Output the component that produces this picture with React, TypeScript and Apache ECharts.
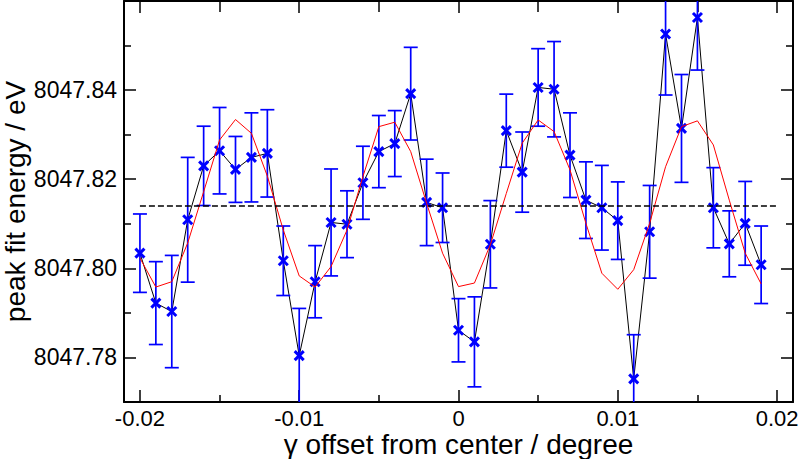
import React, { useEffect, useRef } from "react";
import * as echarts from "echarts";

const offsets = [
  -0.02, -0.019, -0.018, -0.017, -0.016, -0.015, -0.014, -0.013, -0.012, -0.011,
  -0.01, -0.009, -0.008, -0.007, -0.006, -0.005, -0.004, -0.003, -0.002, -0.001,
  0, 0.001, 0.002, 0.003, 0.004, 0.005, 0.006, 0.007, 0.008, 0.009,
  0.01, 0.011, 0.012, 0.013, 0.014, 0.015, 0.016, 0.017, 0.018, 0.019,
];

const peakEnergy = [
  8047.8034, 8047.7922, 8047.7903, 8047.8109, 8047.823, 8047.8264, 8047.8222, 8047.8249, 8047.8258, 8047.8017,
  8047.7804, 8047.797, 8047.8103, 8047.8099, 8047.8192, 8047.8262, 8047.828, 8047.8392, 8047.8148, 8047.8136,
  8047.7861, 8047.7835, 8047.8054, 8047.8309, 8047.8216, 8047.8406, 8047.8402, 8047.8254, 8047.8153, 8047.8136,
  8047.8107, 8047.7752, 8047.8082, 8047.8526, 8047.8314, 8047.8563, 8047.8136, 8047.8055, 8047.8101, 8047.8008,
];

const peakError = [
  0.0088, 0.0093, 0.0126, 0.014, 0.0089, 0.0097, 0.0074, 0.01, 0.0098, 0.0078,
  0.0106, 0.0081, 0.012, 0.0075, 0.0082, 0.0081, 0.0074, 0.0104, 0.0097, 0.0078,
  0.0071, 0.0101, 0.0098, 0.0082, 0.009, 0.0087, 0.0107, 0.0095, 0.0086, 0.0095,
  0.0087, 0.0099, 0.0104, 0.0137, 0.0121, 0.0118, 0.009, 0.0074, 0.0094, 0.0087,
];

const fitEnergy = [
  8047.8023, 8047.7958, 8047.797, 8047.8057, 8047.8172, 8047.8288, 8047.8334, 8047.8303, 8047.8207, 8047.8086,
  8047.7983, 8047.7958, 8047.8004, 8047.8086, 8047.8206, 8047.8318, 8047.8328, 8047.8262, 8047.8146, 8047.8034,
  8047.7959, 8047.7967, 8047.8053, 8047.8168, 8047.8281, 8047.8333, 8047.8307, 8047.8221, 8047.8101, 8047.7989,
  8047.7953, 8047.7997, 8047.8101, 8047.8228, 8047.8318, 8047.8331, 8047.8277, 8047.8153, 8047.8034, 8047.7965,
];

const meanEnergy = 8047.814;
const meanRange = [-0.02, 0.02];

const xRange = [-0.021, 0.021];
const yRange = [8047.77, 8047.86];

const xTitle = "γ offset from center / degree";
const yTitle = "peak fit energy / eV";

const BLUE = "#0000ff";
const FONT = "'Liberation Sans', Arial, Helvetica, sans-serif";

export default function App() {
  const ref = useRef<HTMLDivElement>(null);

  useEffect(() => {
    if (!ref.current) return;
    const chart = echarts.init(ref.current, null, { renderer: "svg" });

    const baseX = {
      type: "value" as const,
      min: xRange[0],
      max: xRange[1],
      splitNumber: 4,
      splitLine: { show: false },
      axisLine: { show: true, onZero: false, lineStyle: { color: "#000", width: 2 } },
      axisTick: { show: true, inside: true, length: 12, lineStyle: { color: "#000", width: 1.5 } },
      minorTick: { show: true, splitNumber: 2, length: 7, lineStyle: { color: "#000", width: 1.5 } },
      minorSplitLine: { show: false },
    };
    const baseY = {
      type: "value" as const,
      min: yRange[0],
      max: yRange[1],
      splitNumber: 4,
      scale: true,
      splitLine: { show: false },
      axisLine: { show: true, onZero: false, lineStyle: { color: "#000", width: 2 } },
      axisTick: { show: true, inside: true, length: 12, lineStyle: { color: "#000", width: 1.5 } },
      minorTick: { show: true, splitNumber: 2, length: 7, lineStyle: { color: "#000", width: 1.5 } },
      minorSplitLine: { show: false },
    };

    const points = offsets.map((x, i) => [x, peakEnergy[i], peakError[i]]);
    const fit = offsets.map((x, i) => [x, fitEnergy[i]]);
    const meanLine = meanRange.map((x) => [x, meanEnergy]);

    chart.setOption({
      animation: false,
      backgroundColor: "#fff",
      grid: { left: 124, right: 7, top: 1, bottom: 57, containLabel: false, outerBoundsMode: "none" },
      xAxis: [
        {
          ...baseX,
          position: "bottom",
          name: xTitle,
          nameLocation: "middle",
          nameGap: 28,
          nameMoveOverlap: false,
          nameTextStyle: { fontFamily: FONT, fontSize: 28, color: "#000" },
          axisLabel: {
            show: true,
            margin: 5,
            fontFamily: FONT,
            fontSize: 22,
            color: "#000",
            showMinLabel: false,
            showMaxLabel: false,
            formatter: (v: number) => (Math.abs(v) < 1e-9 ? "0" : String(Math.round(v * 1000) / 1000)),
          },
        },
        {
          ...baseX,
          position: "top",
          axisLabel: { show: false },
          axisTick: { ...baseX.axisTick, length: 12 },
          minorTick: { ...baseX.minorTick, length: 11 },
        },
      ],
      yAxis: [
        {
          ...baseY,
          position: "left",
          name: yTitle,
          nameLocation: "middle",
          nameGap: 95,
          nameMoveOverlap: false,
          nameTextStyle: { fontFamily: FONT, fontSize: 28, color: "#000" },
          axisLabel: {
            show: true,
            margin: 7,
            fontFamily: FONT,
            fontSize: 23,
            color: "#000",
            showMinLabel: false,
            showMaxLabel: false,
            formatter: (v: number) => v.toFixed(2),
          },
        },
        {
          ...baseY,
          position: "right",
          axisLabel: { show: false },
        },
      ],
      series: [
        {
          type: "line",
          data: points.map((p) => [p[0], p[1]]),
          xAxisIndex: 0,
          yAxisIndex: 0,
          showSymbol: false,
          symbol: "none",
          lineStyle: { color: "#000", width: 1 },
          z: 2,
        },
        {
          type: "custom",
          xAxisIndex: 0,
          yAxisIndex: 0,
          clip: true,
          data: points,
          z: 3,
          renderItem: (params: any, api: any) => {
            const x = api.value(0);
            const y = api.value(1);
            const e = api.value(2);
            const c = api.coord([x, y]);
            const t = api.coord([x, y + e]);
            const b = api.coord([x, y - e]);
            const cap = 7;
            const s = 4.5;
            const bar = { stroke: BLUE, lineWidth: 1.7 };
            const mk = { stroke: BLUE, lineWidth: 3 };
            return {
              type: "group",
              children: [
                { type: "line", shape: { x1: t[0], y1: t[1], x2: b[0], y2: b[1] }, style: bar },
                { type: "line", shape: { x1: t[0] - cap, y1: t[1], x2: t[0] + cap, y2: t[1] }, style: bar },
                { type: "line", shape: { x1: b[0] - cap, y1: b[1], x2: b[0] + cap, y2: b[1] }, style: bar },
                { type: "line", shape: { x1: c[0] - s, y1: c[1] - s, x2: c[0] + s, y2: c[1] + s }, style: mk },
                { type: "line", shape: { x1: c[0] - s, y1: c[1] + s, x2: c[0] + s, y2: c[1] - s }, style: mk },
              ],
            };
          },
        },
        {
          type: "line",
          data: fit,
          xAxisIndex: 0,
          yAxisIndex: 0,
          showSymbol: false,
          symbol: "none",
          lineStyle: { color: "#ff0000", width: 1 },
          z: 4,
        },
        {
          type: "line",
          data: meanLine,
          xAxisIndex: 0,
          yAxisIndex: 0,
          showSymbol: false,
          symbol: "none",
          lineStyle: { color: "#000", width: 1.5, type: [6, 3] },
          z: 5,
        },
      ],
    });

    return () => chart.dispose();
  }, []);

  return (
    <div
      ref={ref}
      style={{ position: "fixed", left: 0, top: 0, width: 800, height: 459, background: "#fff" }}
    />
  );
}
